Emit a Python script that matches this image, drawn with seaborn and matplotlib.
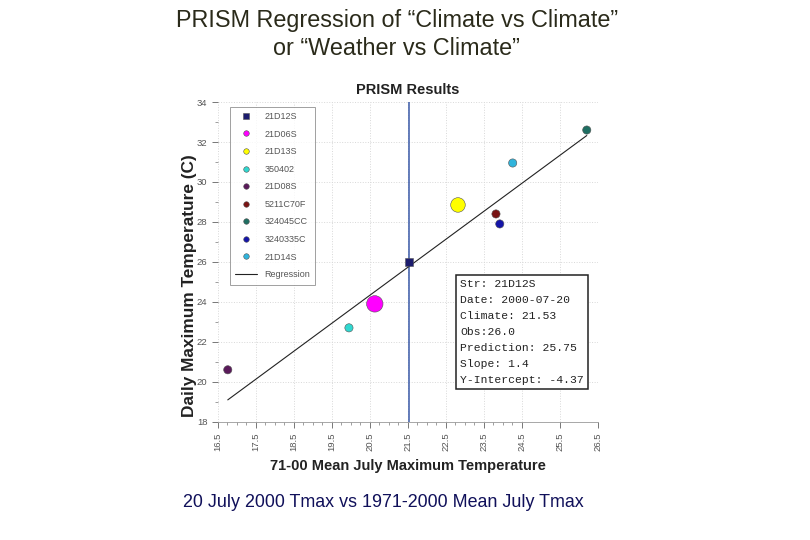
import pandas as pd
import numpy as np
import matplotlib.pyplot as plt
import seaborn as sns

# ─── Data ────────────────────────────────────────────────────────────────────
stations = ["21D12S", "21D06S", "21D13S", "350402", "21D08S",
            "5211C70F", "324045CC", "3240335C", "21D14S"]
climate = [21.53, 20.63, 22.82, 19.95, 16.76, 23.82, 26.21, 23.92, 24.26]
observed = [26.0, 23.9, 28.85, 22.7, 20.6, 28.4, 32.6, 27.9, 30.95]
colours = ["#1c1c6e", "#ff00ff", "#ffff00", "#30d8d0", "#5a1a5a",
           "#7a1414", "#1f6e62", "#1414a8", "#30b4dc"]
sizes = [40, 140, 110, 35, 35, 35, 35, 35, 35]

slope = 1.4
intercept = -4.37
x_ticks = [16.5, 17.5, 18.5, 19.5, 20.5, 21.5, 22.5, 23.5, 24.5, 25.5, 26.5]
y_ticks = [18, 20, 22, 24, 26, 28, 30, 32, 34]
info_lines = ["Str: 21D12S", "Date: 2000-07-20", "Climate: 21.53", "Obs:26.0",
              "Prediction: 25.75", "Slope: 1.4", "Y-Intercept: -4.37"]

df = pd.DataFrame({"station": stations, "climate": climate,
                   "observed": observed, "size": sizes})

sns.set_theme(style="white")
plt.rcParams["font.family"] = ["Liberation Sans", "DejaVu Sans"]

fig = plt.figure(figsize=(8.1, 5.4), dpi=100)
ax = fig.add_axes([0.269, 0.219, 0.469, 0.592])

# ─── Grid, reference line, regression ────────────────────────────────────────
for xv in x_ticks:
    ax.axvline(xv, color="#d8d8d8", lw=0.7, ls=":", zorder=0)
for yv in y_ticks:
    ax.axhline(yv, color="#d8d8d8", lw=0.7, ls=":", zorder=0)
ax.axvline(climate[0], color="#3a5aa8", lw=1.1, zorder=1)

xr = np.array([min(climate), max(climate)])
ax.plot(xr, slope * xr + intercept, color="#222222", lw=0.8, zorder=2,
        label="Regression")

# ─── Stations ────────────────────────────────────────────────────────────────
markers = {s: ("s" if s == "21D12S" else "o") for s in stations}
sns.scatterplot(data=df, x="climate", y="observed", hue="station",
                hue_order=stations, palette=colours, style="station",
                markers=markers, size="station",
                sizes=dict(zip(stations, sizes)), edgecolor="#555555",
                linewidth=0.4, ax=ax, zorder=3, legend=True)

handles, labels = ax.get_legend_handles_labels()
keep = [(h, l) for h, l in zip(handles, labels) if l in stations or l == "Regression"]
order = stations + ["Regression"]
keep.sort(key=lambda t: order.index(t[1]))
for h, _ in keep:
    if hasattr(h, "set_markersize") and h.get_label() != "Regression":
        h.set_markersize(4)
leg = ax.legend([k[0] for k in keep], [k[1] for k in keep], loc="upper left",
                bbox_to_anchor=(0.02, 1.0), fontsize=6.5, frameon=True,
                fancybox=False, edgecolor="#888888", labelcolor="#555555",
                handlelength=2.4, labelspacing=0.95, borderpad=0.6)
leg.get_frame().set_linewidth(0.7)

# ─── Info box ────────────────────────────────────────────────────────────────
ax.text(0.637, 0.445, "\n".join(info_lines), transform=ax.transAxes,
        family=["Liberation Mono", "DejaVu Sans Mono"], fontsize=8.2,
        va="top", ha="left", linespacing=1.75, color="#222222", zorder=5,
        bbox=dict(boxstyle="square,pad=0.35", fc="white", ec="#222222", lw=1.1))

# ─── Axes ────────────────────────────────────────────────────────────────────
ax.set_xlim(16.5, 26.5)
ax.set_ylim(18, 34)
ax.set_xticks(x_ticks)
ax.set_xticklabels([f"{v}" for v in x_ticks], rotation=90)
ax.set_xticks(np.arange(16.5, 24.6, 0.25), minor=True)
ax.set_yticks(y_ticks)
ax.set_yticks(np.arange(19, 34, 2), minor=True)
ax.tick_params(axis="both", which="major", labelsize=6.8, labelcolor="#555555",
               length=4, width=0.7, color="#777777", bottom=True, left=True)
ax.tick_params(axis="both", which="minor", length=2, width=0.5,
               color="#777777", bottom=True, left=True)
for side in ["top", "right", "left"]:
    ax.spines[side].set_visible(False)
ax.spines["bottom"].set_color("#999999")
ax.spines["bottom"].set_linewidth(0.6)

ax.set_xlabel("71-00 Mean July Maximum Temperature", fontsize=10.5,
              fontweight="bold", color="#222222", labelpad=6)
ax.set_ylabel("Daily Maximum Temperature (C)", fontsize=12.4,
              fontweight="bold", color="#222222")
ax.yaxis.set_label_coords(-0.055, 0.425)
ax.set_title("PRISM Results", fontsize=10.5, fontweight="bold",
             color="#222222", pad=6)

fig.text(0.49, 0.962, "PRISM Regression of \u201cClimate vs Climate\u201d",
         ha="center", va="center", fontsize=16.8, color="#2a2a1a")
fig.text(0.49, 0.91, "or \u201cWeather vs Climate\u201d",
         ha="center", va="center", fontsize=16.8, color="#2a2a1a")
fig.text(0.4735, 0.07, "20 July 2000 Tmax vs 1971-2000 Mean July Tmax",
         ha="center", va="center", fontsize=12.9, color="#10105a")

plt.savefig("out.png", dpi=100)
